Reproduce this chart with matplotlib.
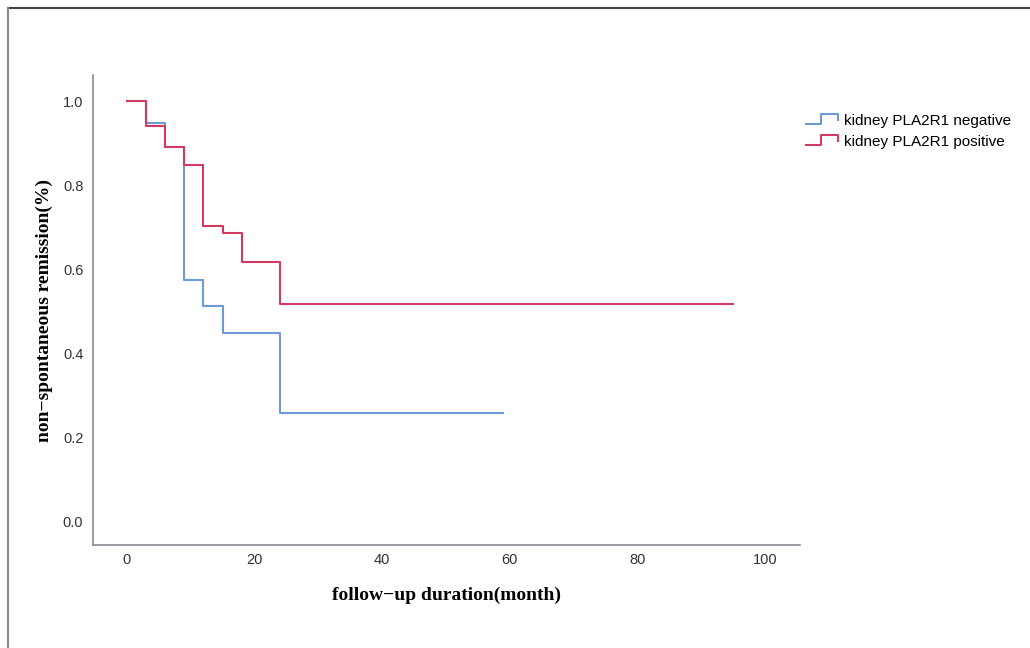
import matplotlib.pyplot as plt
from matplotlib.lines import Line2D
from matplotlib.legend_handler import HandlerBase

# ---------- DATA ----------
neg_time = [0, 3, 6, 9, 12, 15, 24, 59]
neg_surv = [1.0, 0.947, 0.89, 0.574, 0.511, 0.447, 0.257, 0.257]

pos_time = [0, 3, 6, 9, 12, 15, 18, 24, 95]
pos_surv = [1.0, 0.942, 0.89, 0.847, 0.703, 0.686, 0.617, 0.518, 0.518]

labels = ["kidney PLA2R1 negative", "kidney PLA2R1 positive"]
x_ticks = [0, 20, 40, 60, 80, 100]
y_ticks = [0.0, 0.2, 0.4, 0.6, 0.8, 1.0]

BLUE = "#6f9ad8"
RED = "#d33a62"


class StepHandler(HandlerBase):
    # small step glyph like the SPSS legend
    def create_artists(self, legend, orig_handle, xdescent, ydescent,
                       width, height, fontsize, trans):
        x0, x1 = -xdescent, -xdescent + width
        xm = x0 + width * 0.45
        ylo = -ydescent + height * 0.1
        yhi = -ydescent + height * 1.0
        ln = Line2D([x0, xm, xm, x1, x1], [ylo, ylo, yhi, yhi, ylo * 0.6 + yhi * 0.4],
                    color=orig_handle.get_color(), lw=1.5, transform=trans)
        return [ln]


fig = plt.figure(figsize=(10.3, 6.48), dpi=100)
ax = fig.add_axes([0.0903, 0.159, 0.6864, 0.725])

h1, = ax.step(neg_time, neg_surv, where="post", color=BLUE, lw=1.5, label=labels[0])
h2, = ax.step(pos_time, pos_surv, where="post", color=RED, lw=1.5, label=labels[1])

ax.set_xlim(-5.3, 105.5)
ax.set_ylim(-0.057, 1.062)
ax.set_xticks(x_ticks)
ax.set_yticks(y_ticks)
ax.set_yticklabels([f"{v:.1f}" for v in y_ticks])
for lab in ax.get_xticklabels() + ax.get_yticklabels():
    lab.set_family("Liberation Sans")
ax.tick_params(length=0, labelsize=10.5, colors="#333333")
ax.tick_params(axis="x", pad=6)
ax.tick_params(axis="y", pad=7)

for s in ["top", "right"]:
    ax.spines[s].set_visible(False)
for s in ["left", "bottom"]:
    ax.spines[s].set_color("#8a8a9a")
    ax.spines[s].set_linewidth(1.2)

ax.set_xlabel("follow\u2212up duration(month)", fontsize=14, fontweight="bold",
              family="Liberation Serif", labelpad=14)
ax.set_ylabel("non\u2212spontaneous remission(%)", fontsize=14, fontweight="bold",
              family="Liberation Serif", labelpad=7)

ax.legend([h1, h2], labels, loc="upper left", bbox_to_anchor=(1.0, 0.93),
          frameon=False, prop={"family": "Liberation Sans", "size": 11},
          handlelength=2.1, handletextpad=0.35, borderaxespad=0.0,
          labelspacing=0.45, handler_map={Line2D: StepHandler()})

# frame lines at top and left of the picture
fig.add_artist(Line2D([0.008, 1.0], [0.987, 0.987], transform=fig.transFigure,
                      color="#444444", lw=1.5))
fig.add_artist(Line2D([0.008, 0.008], [0.0, 0.987], transform=fig.transFigure,
                      color="#888888", lw=1.5))

fig.savefig("out.png", dpi=100)
